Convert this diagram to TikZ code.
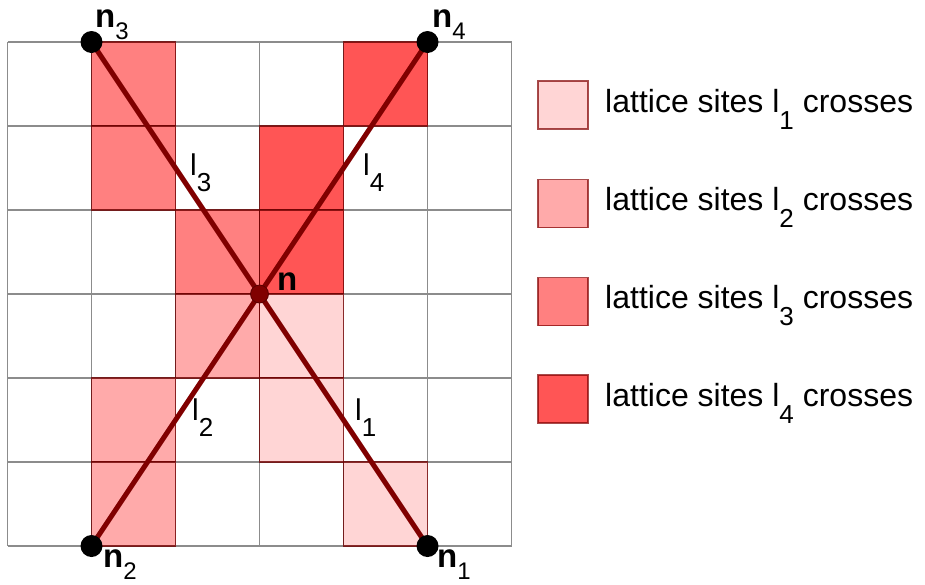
\documentclass[tikz,border=0pt]{standalone}
\usepackage{fontspec}
\setmainfont{Liberation Sans}
\definecolor{cA}{HTML}{FFD5D5}
\definecolor{cB}{HTML}{FFAAAA}
\definecolor{cC}{HTML}{FF8080}
\definecolor{cD}{HTML}{FF5555}
\definecolor{maroon}{HTML}{800000}
\definecolor{gridgray}{HTML}{8C8C8C}
\newcommand\lsub[1]{\raisebox{-0.55em}{\fontsize{26}{26}\selectfont #1}}
\newcommand\nsub[1]{\raisebox{-0.38em}{\fontsize{24}{24}\mdseries\selectfont #1}}
\tikzset{
  gridline/.style={draw=gridgray, line width=1.3pt},
  cell/.style={draw=maroon!85!black, draw opacity=0.8, line width=1.5pt},
  link/.style={draw=maroon, line width=5pt},
  bigdot/.style={circle, fill=black, inner sep=0pt, minimum size=22pt},
  smalldot/.style={circle, fill=maroon, draw=maroon!70!black, line width=0.8pt, inner sep=0pt, minimum size=18pt},
  ptlabel/.style={anchor=base west, inner sep=0pt, font=\fontsize{33}{33}\bfseries\selectfont},
  linelabel/.style={anchor=base west, inner sep=0pt, font=\fontsize{30}{30}\selectfont},
  legtext/.style={anchor=base west, inner sep=0pt, font=\fontsize{32}{32}\selectfont},
  legbox/.style={draw=maroon, draw opacity=0.7, line width=1.5pt, minimum width=50pt, minimum height=48pt, inner sep=0pt}
}
\begin{document}
\begin{tikzpicture}[x=1pt,y=-1pt]
\useasboundingbox (0,0) rectangle (925,584);
% grid
\foreach \i in {0,...,6}{
  \draw[gridline] ({7.5+84*\i},42) -- ({7.5+84*\i},546);
  \draw[gridline] (7.5,{42+84*\i}) -- (511.5,{42+84*\i});
}
% cells
\foreach \c/\r/\col in {1/0/cC,1/1/cC,2/2/cC, 4/0/cD,3/1/cD,3/2/cD, 2/3/cB,1/4/cB,1/5/cB, 3/3/cA,3/4/cA,4/5/cA}{
  \draw[cell, fill=\col] ({7.5+84*\c},{42+84*\r}) rectangle ++(84,84);
}
% points
\coordinate (c0) at (259.5,294);
\coordinate (c1) at (427.5,546);
\coordinate (c2) at (91.5,546);
\coordinate (c3) at (91.5,42);
\coordinate (c4) at (427.5,42);
\draw[link] (c0) -- (c1);
\draw[link] (c0) -- (c2);
\draw[link] (c0) -- (c3);
\draw[link] (c0) -- (c4);
\node[smalldot] (n) at (c0) {};
\node[bigdot] (n1) at (c1) {};
\node[bigdot] (n2) at (c2) {};
\node[bigdot] (n3) at (c3) {};
\node[bigdot] (n4) at (c4) {};
% point labels
\node[ptlabel] (ln) at (277,290) {n};
\node[ptlabel] (ln3) at (95,27) {n\nsub{3}};
\node[ptlabel] (ln4) at (432,27) {n\nsub{4}};
\node[ptlabel] (ln2) at (103,567) {n\nsub{2}};
\node[ptlabel] (ln1) at (437,567) {n\nsub{1}};
% line labels
\node[linelabel] (l3) at (190,175) {l\lsub{3}};
\node[linelabel] (l4) at (363,175) {l\lsub{4}};
\node[linelabel] (l2) at (192,420) {l\lsub{2}};
\node[linelabel] (l1) at (355,420) {l\lsub{1}};
% legend
\node[legbox, fill=cA] (b1) at (563,105) {};
\node[legbox, fill=cB] (b2) at (563,203.5) {};
\node[legbox, fill=cC] (b3) at (563,301.5) {};
\node[legbox, fill=cD] (b4) at (563,399) {};
\node[legtext] (t1) at (605,112) {lattice sites l\lsub{1} crosses};
\node[legtext] (t2) at (605,210) {lattice sites l\lsub{2} crosses};
\node[legtext] (t3) at (605,308) {lattice sites l\lsub{3} crosses};
\node[legtext] (t4) at (605,406) {lattice sites l\lsub{4} crosses};
\end{tikzpicture}
\end{document}
